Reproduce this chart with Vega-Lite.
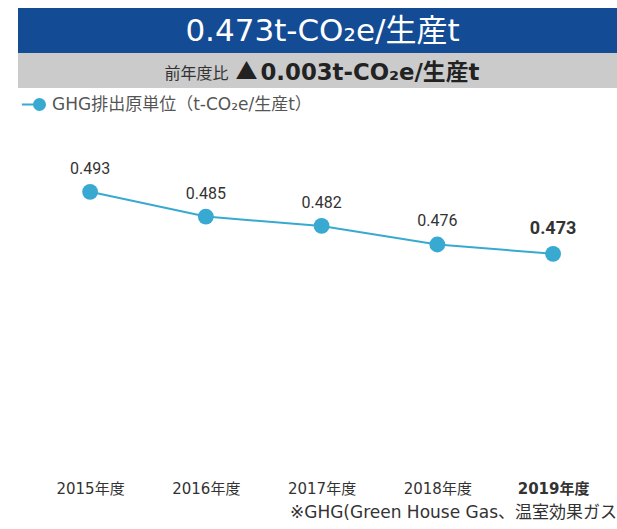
{
  "$schema": "https://vega.github.io/schema/vega-lite/v6.json",
  "padding": {"left": 18, "top": 8, "right": 0, "bottom": 0},
  "spacing": 0,
  "background": "white",
  "config": {"view": {"stroke": null}, "font": "DejaVu Sans, Noto Sans CJK JP"},
  "datasets": {
    "ghg": [
      {"year": "2015年度", "value": 0.493, "series": "GHG排出原単位（t-CO₂e/生産t）"},
      {"year": "2016年度", "value": 0.485, "series": "GHG排出原単位（t-CO₂e/生産t）"},
      {"year": "2017年度", "value": 0.482, "series": "GHG排出原単位（t-CO₂e/生産t）"},
      {"year": "2018年度", "value": 0.476, "series": "GHG排出原単位（t-CO₂e/生産t）"},
      {"year": "2019年度", "value": 0.473, "series": "GHG排出原単位（t-CO₂e/生産t）"}
    ],
    "head": [{"main": "0.473t-CO₂e/生産t", "pre": "前年度比", "tri": "▲", "diff": "0.003t-CO₂e/生産t"}]
  },
  "vconcat": [
    {
      "width": 599,
      "height": 45,
      "view": {"fill": "#134b94", "stroke": null},
      "data": {"name": "head"},
      "mark": {"type": "text", "color": "white", "fontSize": 31, "font": "DejaVu Sans, Noto Sans CJK JP", "fontWeight": "normal", "dx": 5, "dy": 1},
      "encoding": {"text": {"field": "main"}}
    },
    {
      "width": 599,
      "height": 35,
      "view": {"fill": "#cbcbcc", "stroke": null},
      "data": {"name": "head"},
      "layer": [
        {
          "mark": {"type": "text", "color": "#333333", "fontSize": 16, "font": "Noto Sans CJK JP", "align": "right", "baseline": "alphabetic", "dx": -89, "dy": 8},
          "encoding": {"text": {"field": "pre"}}
        },
        {
          "mark": {"type": "text", "color": "#222222", "fontSize": 22, "font": "Noto Sans CJK JP", "align": "left", "baseline": "alphabetic", "dx": -82, "dy": 8},
          "encoding": {"text": {"field": "tri"}}
        },
        {
          "mark": {"type": "text", "color": "#222222", "fontSize": 22.8, "font": "DejaVu Sans, Noto Sans CJK JP", "fontWeight": "bold", "align": "left", "baseline": "alphabetic", "dx": -57, "dy": 9},
          "encoding": {"text": {"field": "diff"}}
        }
      ]
    },
    {
      "width": 599,
      "height": 392,
      "data": {"name": "ghg"},
      "title": {"text": "※GHG(Green House Gas、温室効果ガス", "orient": "bottom", "anchor": "end", "fontSize": 17, "font": "DejaVu Sans, Noto Sans CJK JP", "fontWeight": "normal", "color": "#333333", "offset": 9},
      "encoding": {
        "x": {
          "field": "year", "type": "ordinal", "sort": null,
          "scale": {"type": "point", "padding": 0.5875, "align": 0.53},
          "axis": {"title": null, "domain": false, "ticks": false, "grid": false, "labelAngle": 0, "labelFont": "DejaVu Sans, Noto Sans CJK JP", "labelFontSize": 15, "labelColor": "#333333", "labelPadding": 1,
            "labelFontWeight": {"condition": {"test": "datum.value === '2019年度'", "value": "bold"}, "value": "normal"}}
        },
        "y": {"field": "value", "type": "quantitative", "scale": {"domain": [0.4, 0.5265], "zero": false, "nice": false}, "axis": null}
      },
      "layer": [
        {
          "mark": {"type": "line", "strokeWidth": 2},
          "encoding": {
            "color": {"field": "series", "type": "nominal", "scale": {"range": ["#38a9d1"]},
              "legend": {"title": null, "orient": "none", "legendX": 13, "legendY": 88, "padding": 0,
                "symbolType": "M-3.2,0H-0.9M1,0A1,1,0,1,1,-1,0A1,1,0,1,1,1,0Z", "symbolSize": 121, "symbolStrokeWidth": 2,
                "symbolFillColor": "#38a9d1", "symbolStrokeColor": "#38a9d1",
                "labelFont": "DejaVu Sans, Noto Sans CJK JP", "labelFontSize": 17, "labelColor": "#555555", "labelOffset": 4, "labelLimit": 400}}
          }
        },
        {
          "mark": {"type": "point", "filled": true, "size": 250, "opacity": 1, "color": "#38a9d1"}
        },
        {
          "transform": [{"filter": "datum.year !== '2019年度'"}],
          "mark": {"type": "text", "dy": -23, "fontSize": 16, "font": "Roboto", "color": "#333333"},
          "encoding": {"text": {"field": "value", "type": "quantitative", "format": ".3f"}}
        },
        {
          "transform": [{"filter": "datum.year === '2019年度'"}],
          "mark": {"type": "text", "dy": -25, "fontSize": 18, "fontWeight": "bold", "font": "Roboto", "color": "#333333"},
          "encoding": {"text": {"field": "value", "type": "quantitative", "format": ".3f"}}
        }
      ]
    }
  ]
}
